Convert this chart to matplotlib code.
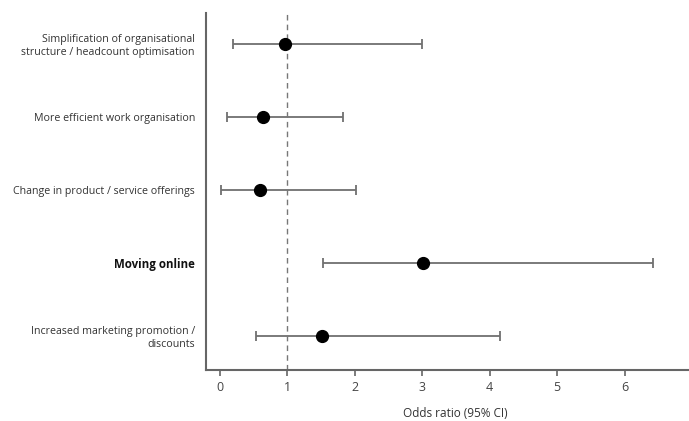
import matplotlib.pyplot as plt

# odds ratios with 95% CI
labels = [
    "Simplification of organisational\nstructure / headcount optimisation",
    "More efficient work organisation",
    "Change in product / service offerings",
    "Moving online",
    "Increased marketing promotion /\ndiscounts",
]
odds = [0.97, 0.64, 0.60, 3.01, 1.52]
ci_low = [0.20, 0.11, 0.02, 1.53, 0.54]
ci_high = [3.00, 1.83, 2.02, 6.42, 4.16]
bold = [False, False, False, True, False]
xticks = [0, 1, 2, 3, 4, 5, 6, 7]

plt.rcParams["font.family"] = ["Open Sans", "DejaVu Sans"]

fig = plt.figure(figsize=(6.89, 4.21), dpi=100)
ax = fig.add_axes([0.299, 0.121, 0.725, 0.848])

ys = list(range(len(labels)))
err = [[o - l for o, l in zip(odds, ci_low)], [h - o for o, h in zip(odds, ci_high)]]
ax.errorbar(odds, ys, xerr=err, fmt="o", color="#666666", ecolor="#707070",
            elinewidth=1.3, capsize=3.5, capthick=1.3,
            markerfacecolor="black", markeredgecolor="black", markersize=8.5)
ax.axvline(1, color="#777777", linestyle=(0, (4, 3)), linewidth=1)

ax.set_xlim(-0.2, 7.2)
ax.set_ylim(4.47, -0.42)
ax.set_xticks(xticks)
ax.set_yticks(ys)
ax.set_yticklabels(labels, fontsize=7.7, color="#333333")
for tl, b in zip(ax.get_yticklabels(), bold):
    if b:
        tl.set_fontweight("bold")
        tl.set_fontsize(8.3)
        tl.set_color("#111111")
ax.tick_params(axis="y", length=0, pad=8)
ax.tick_params(axis="x", length=4, width=1.2, color="#666666", labelsize=9,
               labelcolor="#444444", pad=4)
ax.set_xlabel("Odds ratio (95% CI)", fontsize=8.5, color="#333333", labelpad=9)

for s in ["top", "right"]:
    ax.spines[s].set_visible(False)
for s in ["left", "bottom"]:
    ax.spines[s].set_color("#666666")
    ax.spines[s].set_linewidth(1.5)

fig.savefig("out.png", dpi=100)
